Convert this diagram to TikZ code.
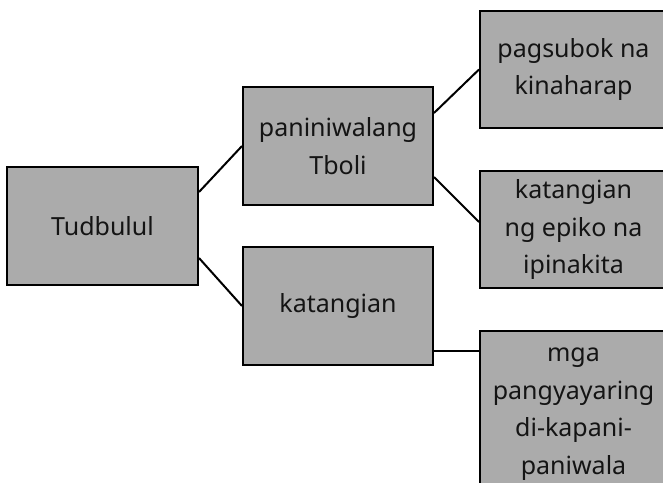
\documentclass[tikz,border=0pt]{standalone}
\usepackage{fontspec}
\setmainfont{Noto Sans}
\definecolor{boxgray}{RGB}{171,171,171}
\begin{document}
\begin{tikzpicture}[x=1pt,y=-1pt,
  box/.style={draw=black, line width=2pt, fill=boxgray, rectangle, inner sep=0pt,
    align=center, font=\fontsize{25}{37.5}\selectfont, text=black!92},
  link/.style={draw=black, line width=2pt}]
\useasboundingbox (0,0) rectangle (663,482);
\node[box, minimum width=191pt, minimum height=118pt] (tud) at (102.5,226) {Tudbulul};
\node[box, minimum width=190pt, minimum height=118pt] (pan) at (338,146) {paniniwalang\\Tboli};
\node[box, minimum width=190pt, minimum height=118pt] (kat) at (338,306) {katangian};
\node[box, minimum width=187pt, minimum height=117pt] (pag) at (573.5,69.5) {pagsubok na\\kinaharap};
\node[box, minimum width=187pt, minimum height=117pt] (epi) at (573.5,229.5) {katangian\\ng epiko na\\ipinakita};
\node[box, minimum width=187pt, minimum height=166pt] (mga) at (573.5,414) {mga\\pangyayaring\\di-kapani-\\paniwala};
\draw[link] ([yshift=34pt]tud.east) -- (pan.west);
\draw[link] ([yshift=-32pt]tud.east) -- (kat.west);
\draw[link] ([yshift=33pt]pan.east) -- (pag.west);
\draw[link] ([yshift=-31pt]pan.east) -- ([yshift=7.5pt]epi.west);
\draw[link] ([yshift=-45pt]kat.east) -- ([yshift=-45pt]kat.east -| mga.west);
\end{tikzpicture}
\end{document}
